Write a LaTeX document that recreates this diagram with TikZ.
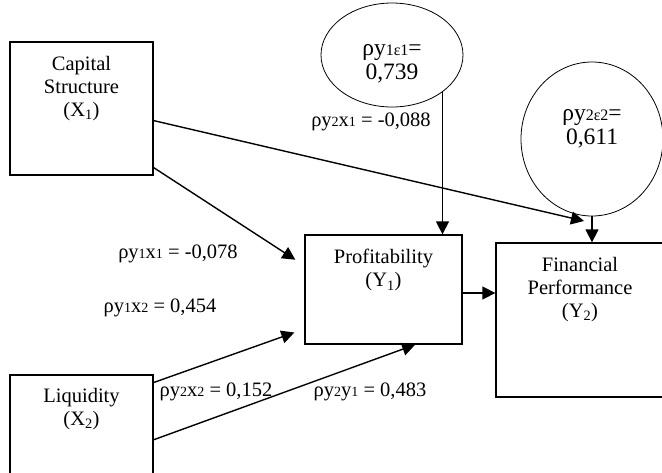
\documentclass[tikz,border=0pt]{standalone}
\usepackage{fontspec}
\setmainfont{Liberation Serif}
\usetikzlibrary{shapes.geometric, calc, arrows.meta, positioning}
\newcommand{\smx}[1]{{\fontsize{14}{14}\selectfont #1}}
\newcommand{\smxe}[1]{{\fontsize{16}{16}\selectfont #1}}

\begin{document}
\begin{tikzpicture}[x=1pt, y=-1pt, >={Triangle[length=13pt,width=13pt]}, font=\fontsize{20.5}{23}\selectfont]
  % Define styles
  \tikzstyle{var} = [rectangle, draw=black, line width=1.3pt, inner sep=0pt]
  \tikzstyle{err} = [ellipse, draw=black, line width=0.8pt, inner sep=0pt]
  \tikzstyle{title} = [align=center, inner sep=0pt]
  \tikzstyle{errtext} = [title, anchor=center, font=\fontsize{23.5}{24}\selectfont]
  \tikzstyle{coef} = [anchor=base, inner sep=0pt]
  \tikzstyle{line} = [draw, line width=1.4pt, ->]

  \useasboundingbox (0,0) rectangle (662,472);

  % Place nodes
  \node [var, minimum width=143pt, minimum height=133pt,
         label={[title, below=15pt]north:{Capital\\Structure\\(X\textsubscript{1})}}] (cap) at (81.5,108.5) {};
  \node [var, minimum width=143pt, minimum height=135pt,
         label={[title, below=14pt]north:{Liquidity\\(X\textsubscript{2})}}] (liq) at (81.5,442.5) {};
  \node [var, minimum width=157pt, minimum height=109pt,
         label={[title, below=15pt]north:{Profitability\\(Y\textsubscript{1})}}] (prof) at (383.5,289.5) {};
  \node [var, minimum width=168pt, minimum height=154pt,
         label={[title, below=15pt]north:{Financial\\Performance\\(Y\textsubscript{2})}}] (fin) at (580,320) {};
  \node [err, minimum width=142pt, minimum height=104pt,
         label={[errtext, yshift=-9pt]center:{ρy\smxe{1ε1}=\\0,739}}] (e1) at (392,55) {};
  \node [err, minimum width=142pt, minimum height=154pt,
         label={[errtext, yshift=10pt]center:{ρy\smxe{2ε2}=\\0,611}}] (e2) at (592,139) {};

  \node [coef] (c21) at (371,126) {ρy\smx{2}x\smx{1} = -0,088};
  \node [coef] (c11) at (178,258) {ρy\smx{1}x\smx{1} = -0,078};
  \node [coef] (c12) at (160,312) {ρy\smx{1}x\smx{2} = 0,454};
  \node [coef] (c22) at (216,396) {ρy\smx{2}x\smx{2} = 0,152};
  \node [coef] (cy) at (370,396) {ρy\smx{2}y\smx{1} = 0,483};

  \coordinate (tip) at (584,221);

  % Draw edges
  \path [line] (e1.south east) -- (e1.south east |- prof.north);
  \path [line] (e2.south) -- (e2.south |- fin.north);
  \path [line] ($(cap.north east)!0.59!(cap.south east)$) -- (tip);
  \path [line] ($(cap.north east)!0.94!(cap.south east)$) -- ($(prof.north west)!0.23!(prof.south west)+(-9,0)$);
  \path [line] ($(liq.north east)!0.06!(liq.south east)$) -- ($(prof.north west)!0.89!(prof.south west)+(-10,0)$);
  \path [line] ($(liq.north east)!0.48!(liq.south east)$) -- ($(prof.south west)!0.70!(prof.south east)$);
  \path [line] ([yshift=-3.5pt]prof.east) -- ([yshift=-3.5pt]prof.east -| fin.west);
\end{tikzpicture}
\end{document}
